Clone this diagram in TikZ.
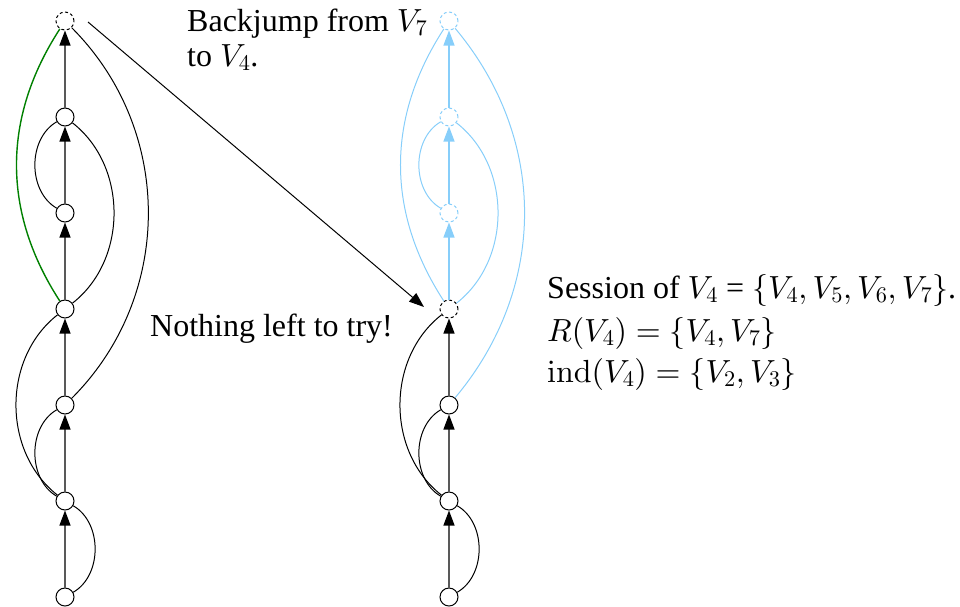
\documentclass[tikz,border=0pt]{standalone}
\usepackage[no-math]{fontspec}
\setmainfont{Liberation Serif}
\usetikzlibrary{arrows.meta}
% scalable math fonts
\DeclareFontShape{OML}{cmm}{m}{it}{<->cmmi10}{}
\DeclareFontShape{OT1}{cmr}{m}{n}{<->cmr10}{}
\DeclareFontShape{OMS}{cmsy}{m}{n}{<->cmsy10}{}

\definecolor{skyline}{RGB}{135,206,250}
\definecolor{jumpgreen}{RGB}{0,128,0}

\tikzset{
  vertex/.style={circle, draw, fill=white, line width=1pt, minimum size=18pt, inner sep=0pt},
  ghost/.style={vertex, dash pattern=on 3pt off 2.5pt},
  blueghost/.style={ghost, draw=skyline},
  chain/.style={draw=black!65, line width=1.2pt, -{Triangle[length=15pt,width=11pt,color=black]}},
  bluechain/.style={draw=skyline, line width=1.2pt, -{Triangle[length=15pt,width=11pt,color=skyline]}},
  arc/.style={draw, line width=1pt},
  bluearc/.style={draw=skyline, line width=1pt},
  label/.style={font=\fontsize{32}{38}\selectfont, inner sep=0pt}
}

\begin{document}
\begin{tikzpicture}[x=1pt, y=-1pt]
\useasboundingbox (0,0) rectangle (960,606);

% Left trail
\node[ghost]  (l7) at (65,21)  {};
\node[vertex] (l6) at (65,117) {};
\node[vertex] (l5) at (65,213) {};
\node[vertex] (l4) at (65,309) {};
\node[vertex] (l3) at (65,405) {};
\node[vertex] (l2) at (65,501) {};
\node[vertex] (l1) at (65,597) {};

\draw[chain] (l1) -- (l2);
\draw[chain] (l2) -- (l3);
\draw[chain] (l3) -- (l4);
\draw[chain] (l4) -- (l5);
\draw[chain] (l5) -- (l6);
\draw[chain] (l6) -- (l7);

\draw[arc] (l1) to[bend right=60] (l2);
\draw[arc] (l2) to[bend left=60] (l3);
\draw[arc] (l2) to[bend left=52] (l4);
\draw[arc] (l3) to[bend right=45] (l7);
\draw[arc] (l4) to[bend right=52] (l6);
\draw[arc] (l5) to[bend left=60] (l6);
\draw[arc, draw=jumpgreen, line width=1.4pt] (l4) to[bend left=33] (l7);

% Right trail after the jump
\node[blueghost] (r7) at (449,21)  {};
\node[blueghost] (r6) at (449,117) {};
\node[blueghost] (r5) at (449,213) {};
\node[ghost]     (r4) at (449,309) {};
\node[vertex]    (r3) at (449,405) {};
\node[vertex]    (r2) at (449,501) {};
\node[vertex]    (r1) at (449,597) {};

\draw[chain] (r1) -- (r2);
\draw[chain] (r2) -- (r3);
\draw[chain] (r3) -- (r4);
\draw[bluechain] (r4) -- (r5);
\draw[bluechain] (r5) -- (r6);
\draw[bluechain] (r6) -- (r7);

\draw[arc] (r1) to[bend right=60] (r2);
\draw[arc] (r2) to[bend left=60] (r3);
\draw[arc] (r2) to[bend left=52] (r4);
\draw[bluearc] (r3) to[bend right=40] (r7);
\draw[bluearc] (r4) to[bend right=52] (r6);
\draw[bluearc] (r5) to[bend left=60] (r6);
\draw[bluearc] (r4) to[bend left=33] (r7);

% Backjump
\draw[line width=1pt, -{Triangle[length=15pt,width=11pt]}] ([shift={(23,1)}]l7.center) -- ([shift={(-25,-2)}]r4.center);

% Texts
\node[label, anchor=base west] (jumptext) at (187,31) {Backjump from $V_7$};
\node[label, anchor=base west] (jumptext2) at (187,66) {to $V_4$.};
\node[label, anchor=base west] (nothing) at (150,336) {Nothing left to try!};
\node[label, anchor=base west] (session) at (547,298) {Session of $V_4$ = $\{V_4, V_5, V_6, V_7\}$.};
\node[label, anchor=base west] (rset) at (547,341) {$R(V_4) = \{V_4, V_7\}$};
\node[label, anchor=base west] (indset) at (547,382) {$\mathrm{ind}(V_4) = \{V_2, V_3\}$};
\end{tikzpicture}
\end{document}
